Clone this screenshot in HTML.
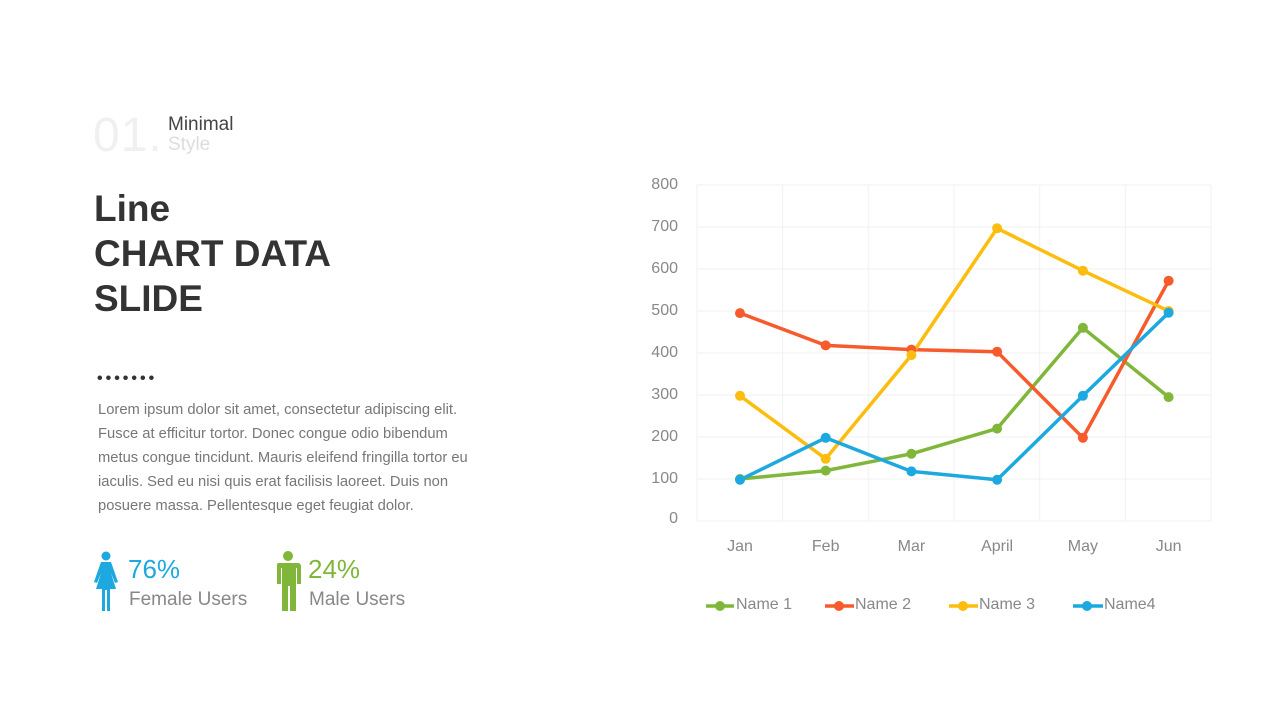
<!DOCTYPE html>
<html><head><meta charset="utf-8"><style>
body{margin:0;width:1280px;height:720px;background:#fff;font-family:"Liberation Sans",sans-serif;position:relative;overflow:hidden}
.a{position:absolute;white-space:nowrap}
</style></head><body>
<div class="a" style="left:93px;top:108px;font-size:48px;color:#f0f0f0;letter-spacing:1px">01.</div>
<div class="a" style="left:168px;top:114px;font-size:19px;color:#444">Minimal</div>
<div class="a" style="left:168px;top:134px;font-size:19px;color:#ddd">Style</div>
<div class="a" style="left:94px;top:186px;font-size:37px;font-weight:bold;color:#333;line-height:45px">Line<br>CHART DATA<br>SLIDE</div>
<div class="a" style="left:97px;top:370px;font-size:16px;color:#333;letter-spacing:3px;font-weight:bold">•••••••</div>
<div class="a" style="left:98px;top:398px;font-size:14.75px;color:#777;line-height:24px">Lorem ipsum dolor sit amet, consectetur adipiscing elit.<br>Fusce at efficitur tortor. Donec congue odio bibendum<br>metus congue tincidunt. Mauris eleifend fringilla tortor eu<br>iaculis. Sed eu nisi quis erat facilisis laoreet. Duis non<br>posuere massa. Pellentesque eget feugiat dolor.</div>
<svg class="a" style="left:92px;top:550px" width="30" height="62" viewBox="0 0 30 62">
<g fill="#1da9df"><circle cx="14" cy="6" r="4.5"/><path d="M9 12h10l7 20-3 1-4-10 5 16h-6v22h-3V40h-2v21h-3V39H4l5-16-4 10-3-1z"/></g></svg>
<svg class="a" style="left:274px;top:550px" width="28" height="62" viewBox="0 0 28 62">
<g fill="#80b73a"><circle cx="14" cy="6" r="5"/><path d="M4 13h20a3 3 0 0 1 3 3v18h-4V18h-1v43h-6V36h-2v25H8V18H7v16H3V16a3 3 0 0 1 1-3z"/></g></svg>
<div class="a" style="left:128px;top:554px;font-size:26px;color:#1da9df">76%</div>
<div class="a" style="left:129px;top:589px;font-size:19px;color:#888">Female Users</div>
<div class="a" style="left:308px;top:554px;font-size:26px;color:#80b73a">24%</div>
<div class="a" style="left:309px;top:589px;font-size:19px;color:#888">Male Users</div>
<svg class="a" style="left:0;top:0" width="1280" height="720">
<g stroke="#f2f2f2" stroke-width="1" fill="none">
<rect x="697" y="185" width="514" height="336"/>
<line x1="697" x2="1211" y1="227" y2="227"/><line x1="697" x2="1211" y1="269" y2="269"/><line x1="697" x2="1211" y1="311" y2="311"/><line x1="697" x2="1211" y1="353" y2="353"/><line x1="697" x2="1211" y1="395" y2="395"/><line x1="697" x2="1211" y1="437" y2="437"/><line x1="697" x2="1211" y1="479" y2="479"/>
<line y1="185" y2="521" x1="782.7" x2="782.7"/><line y1="185" y2="521" x1="868.3" x2="868.3"/><line y1="185" y2="521" x1="954" x2="954"/><line y1="185" y2="521" x1="1039.7" x2="1039.7"/><line y1="185" y2="521" x1="1125.3" x2="1125.3"/>
</g>
<g font-family="Liberation Sans,sans-serif" font-size="16" fill="#888" text-anchor="end">
<text x="678" y="189">800</text><text x="678" y="231">700</text><text x="678" y="273">600</text><text x="678" y="315">500</text><text x="678" y="357">400</text><text x="678" y="399">300</text><text x="678" y="441">200</text><text x="678" y="483">100</text><text x="678" y="523">0</text>
</g>
<g font-family="Liberation Sans,sans-serif" font-size="16" fill="#888" text-anchor="middle">
<text x="740" y="551">Jan</text><text x="825.7" y="551">Feb</text><text x="911.4" y="551">Mar</text><text x="997.1" y="551">April</text><text x="1082.9" y="551">May</text><text x="1168.6" y="551">Jun</text>
</g>
<g fill="none" stroke-width="3.5" stroke-linejoin="round">
<polyline stroke="#80b73a" points="740,479 825.7,470.6 911.4,453.8 997.1,428.6 1082.9,327.8 1168.6,397.1"/>
<polyline stroke="#f75a2b" points="740,313.1 825.7,345.4 911.4,349.6 997.1,351.7 1082.9,437.8 1168.6,280.8"/>
<polyline stroke="#fdbd0f" points="740,395.8 825.7,458.8 911.4,355.1 997.1,228.3 1082.9,270.7 1168.6,311"/>
<polyline stroke="#1da9df" points="740,479.8 825.7,437.8 911.4,471.4 997.1,479.8 1082.9,395.8 1168.6,312.7"/>
</g>
<g fill="#80b73a"><circle cx="740" cy="479" r="5"/><circle cx="825.7" cy="470.6" r="5"/><circle cx="911.4" cy="453.8" r="5"/><circle cx="997.1" cy="428.6" r="5"/><circle cx="1082.9" cy="327.8" r="5"/><circle cx="1168.6" cy="397.1" r="5"/></g>
<g fill="#f75a2b"><circle cx="740" cy="313.1" r="5"/><circle cx="825.7" cy="345.4" r="5"/><circle cx="911.4" cy="349.6" r="5"/><circle cx="997.1" cy="351.7" r="5"/><circle cx="1082.9" cy="437.8" r="5"/><circle cx="1168.6" cy="280.8" r="5"/></g>
<g fill="#fdbd0f"><circle cx="740" cy="395.8" r="5"/><circle cx="825.7" cy="458.8" r="5"/><circle cx="911.4" cy="355.1" r="5"/><circle cx="997.1" cy="228.3" r="5"/><circle cx="1082.9" cy="270.7" r="5"/><circle cx="1168.6" cy="311" r="5"/></g>
<g fill="#1da9df"><circle cx="740" cy="479.8" r="5"/><circle cx="825.7" cy="437.8" r="5"/><circle cx="911.4" cy="471.4" r="5"/><circle cx="997.1" cy="479.8" r="5"/><circle cx="1082.9" cy="395.8" r="5"/><circle cx="1168.6" cy="312.7" r="5"/></g>
<g stroke-width="3.5">
<line x1="706" x2="734" y1="606" y2="606" stroke="#80b73a"/><circle cx="720" cy="606" r="5" fill="#80b73a"/>
<line x1="825" x2="854" y1="606" y2="606" stroke="#f75a2b"/><circle cx="839" cy="606" r="5" fill="#f75a2b"/>
<line x1="949" x2="978" y1="606" y2="606" stroke="#fdbd0f"/><circle cx="963" cy="606" r="5" fill="#fdbd0f"/>
<line x1="1073" x2="1103" y1="606" y2="606" stroke="#1da9df"/><circle cx="1087" cy="606" r="5" fill="#1da9df"/>
</g>
<g font-family="Liberation Sans,sans-serif" font-size="16" fill="#888">
<text x="736" y="609">Name 1</text><text x="855" y="609">Name 2</text><text x="979" y="609">Name 3</text><text x="1104" y="609">Name4</text>
</g>
</svg>
</body></html>
